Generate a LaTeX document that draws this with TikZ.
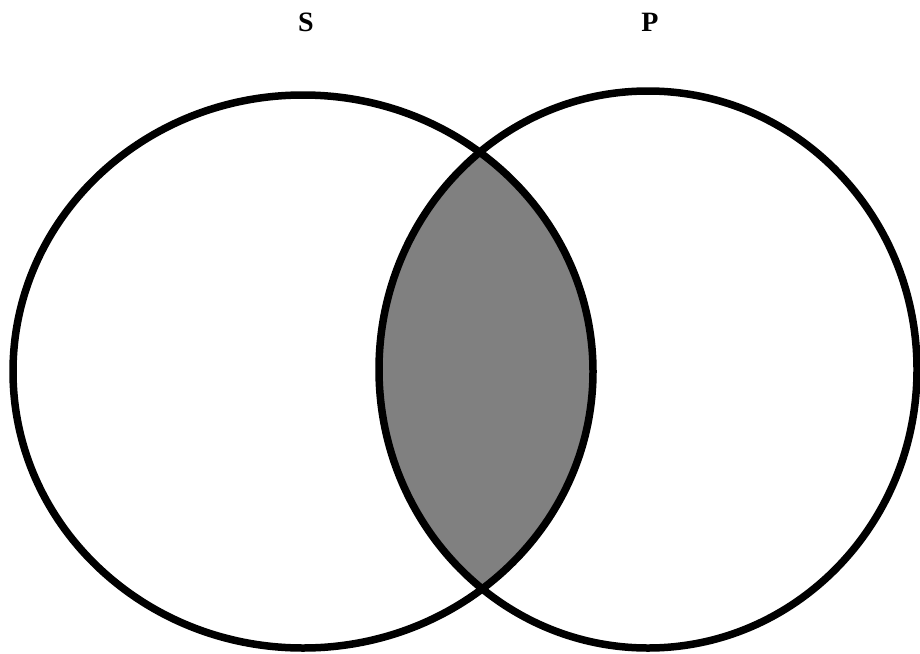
\documentclass[tikz,border=0pt]{standalone}
\usepackage{fontspec}
\setmainfont{Liberation Serif}
\begin{document}
\begin{tikzpicture}[x=1pt,y=-1pt,
  setline/.style={line width=7.5pt,draw=black},
  setlabel/.style={font=\fontsize{28}{28}\selectfont\bfseries,inner sep=0pt}]
\useasboundingbox (0,0) rectangle (920,653);
\begin{scope}
  \clip (303,371.5) ellipse [x radius=290, y radius=276.5];
  \fill[gray] (648,369.5) ellipse [x radius=269, y radius=278.5];
\end{scope}
\draw[setline] (303,371.5) ellipse [x radius=290, y radius=276.5];
\draw[setline] (648,369.5) ellipse [x radius=269, y radius=278.5];
\node[setlabel] (S) at (306,22) {S};
\node[setlabel] (P) at (650,22) {P};
\end{tikzpicture}
\end{document}
